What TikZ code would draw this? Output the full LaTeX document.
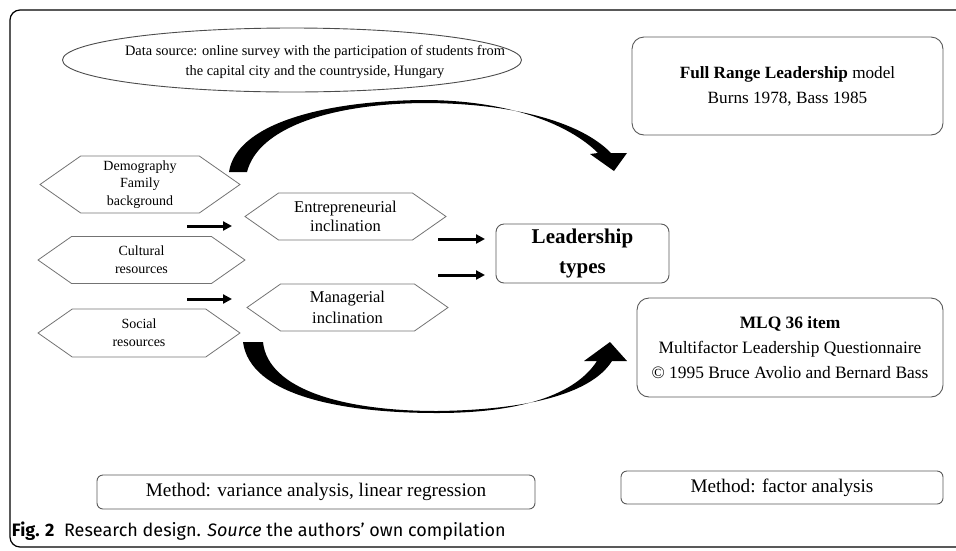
\documentclass[tikz,border=0pt]{standalone}
\usepackage{fontspec}
\setmainfont{Liberation Serif}
\newfontfamily\capfont{Fira Sans}
\usetikzlibrary{shapes.geometric,shapes.symbols,arrows.meta}

\begin{document}
\begin{tikzpicture}[x=1pt,y=-1pt,
  every node/.style={inner sep=0pt, outer sep=0pt, align=center},
  hexa/.style={shape=signal, signal to=east and west, signal pointer angle=70, draw=black!55, line width=0.8pt, minimum width=201pt, minimum height=47pt},
  rbox/.style={draw=black!65, line width=0.9pt, rounded corners=12pt},
  flow/.style={line width=3pt, -{Triangle[length=9pt,width=9pt]}}]
\useasboundingbox (0,0) rectangle (956,550);
\clip (0,0) rectangle (956,550);
\draw[line width=1.2pt, rounded corners=10pt] (10,10) rectangle (990,547);

\node[draw=black!70, line width=0.9pt, ellipse, minimum width=459pt, minimum height=64pt] (survey) at (292,60) {};
\node[font=\fontsize{14.4}{20}\selectfont] (surveytext) at (315,62) {Data source: online survey with the participation of students from\\the capital city and the countryside, Hungary};

\node[rbox, minimum width=311pt, minimum height=98pt, font=\fontsize{17.2}{25}\selectfont] (frl) at (787.5,86) {\textbf{Full Range Leadership} model\\Burns 1978, Bass 1985};
\node[rbox, minimum width=173pt, minimum height=59pt, rounded corners=8pt, font=\bfseries\fontsize{21}{30}\selectfont] (types) at (582.5,253.5) {Leadership\\types};
\node[rbox, minimum width=306pt, minimum height=99pt, font=\fontsize{17.4}{25}\selectfont] (mlq) at (790,347.5) {\textbf{MLQ 36 item}\\Multifactor Leadership Questionnaire\\© 1995 Bruce Avolio and Bernard Bass};
\node[rbox, minimum width=438pt, minimum height=34pt, rounded corners=6pt, font=\fontsize{19.2}{22}\selectfont] (varmeth) at (316,492) {Method: variance analysis, linear regression};
\node[rbox, minimum width=322pt, minimum height=33pt, rounded corners=6pt, font=\fontsize{19.2}{22}\selectfont] (facmeth) at (782,487.5) {Method: factor analysis};

\node[hexa, minimum width=200pt, minimum height=57pt, font=\fontsize{14}{17.5}\selectfont] (demo) at (140,184.5) {Demography\\Family\\background};
\node[hexa, minimum width=207pt, font=\fontsize{14}{18}\selectfont] (cult) at (141.5,260) {Cultural\\resources};
\node[hexa, minimum width=202pt, minimum height=48pt, font=\fontsize{14}{18}\selectfont] (soc) at (139,333) {Social\\resources};
\node[hexa, font=\fontsize{16.5}{19}\selectfont] (entr) at (345.5,216.5) {Entrepreneurial\\inclination};
\node[hexa, font=\fontsize{16.5}{21}\selectfont] (mana) at (347.5,307.5) {Managerial\\inclination};

\coordinate (in1) at (187,226);
\coordinate (out1) at (232,226);
\coordinate (in2) at (187,299);
\coordinate (out2) at (232,299);
\coordinate (in3) at (438,239);
\coordinate (out3) at (485,239);
\coordinate (in4) at (438,275);
\coordinate (out4) at (485,275);
\draw[flow] (in1) -- (out1);
\draw[flow] (in2) -- (out2);
\draw[flow] (in3) -- (out3);
\draw[flow] (in4) -- (out4);

\fill (229,172) .. controls (236,125) and (320,101) .. (423,100) .. controls (510,100) and (570,125) .. (598,153)
  -- (590,154) -- (614,171) -- (627,153) -- (611,153)
  .. controls (580,121) and (510,103) .. (423,103) .. controls (330,104) and (258,128) .. (247,172) -- cycle;
\fill (243,342) .. controls (250,395) and (340,413) .. (437,413) .. controls (520,413) and (575,395) .. (597,361)
  -- (584,361) -- (610,342) -- (627,361) -- (612,361)
  .. controls (590,396) and (520,410) .. (437,411) .. controls (345,411) and (268,390) .. (263,342) -- cycle;

\node[anchor=west, font=\capfont\fontsize{18}{20}\selectfont] (cap) at (12,531) {\textbf{Fig. 2}\ \ Research design. \textit{Source} the authors’ own compilation};
\end{tikzpicture}
\end{document}
